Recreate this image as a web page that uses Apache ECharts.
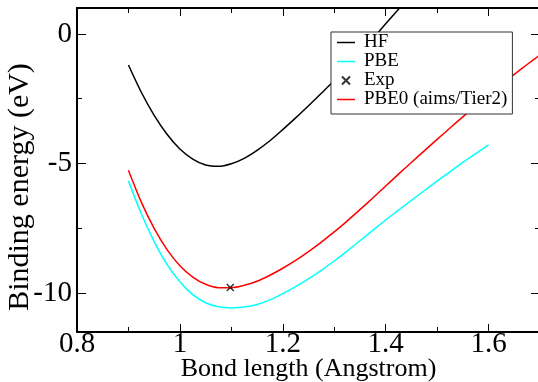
<!DOCTYPE html>
<html><head><meta charset="utf-8">
<script src="https://cdn.jsdelivr.net/npm/echarts@6/dist/echarts.min.js"></script>
<style>html,body{margin:0;padding:0;background:#fff}#c{width:538px;height:382px}</style>
</head><body><div id="c"></div>
<script>
const bondLength = [0.900,0.925,0.950,0.975,1.000,1.025,1.050,1.075,1.100,1.125,1.150,1.175,1.200,1.225,1.250,1.275,
                    1.300,1.325,1.350,1.375,1.400,1.425,1.450,1.475,1.500,1.525,1.550,1.575,1.600,1.625,1.650,1.675,1.700];
const hf   = [-1.20,-2.25,-3.14,-3.87,-4.44,-4.83,-5.06,-5.11,-5.01,-4.80,-4.49,-4.12,-3.69,-3.24,-2.77,-2.29,
              -1.80,-1.28,-0.74,-0.18,0.39,0.95,1.52];
const pbe  = [-5.67,-6.94,-8.01,-8.89,-9.56,-10.06,-10.37,-10.53,-10.57,-10.54,-10.44,-10.26,-10.02,-9.75,-9.45,-9.12,
              -8.76,-8.38,-7.98,-7.58,-7.18,-6.80,-6.42,-6.05,-5.68,-5.32,-4.96,-4.62,-4.28];
const pbe0 = [-5.26,-6.49,-7.50,-8.32,-8.94,-9.38,-9.66,-9.79,-9.79,-9.70,-9.54,-9.31,-9.04,-8.74,-8.40,-8.03,
              -7.64,-7.22,-6.78,-6.33,-5.87,-5.41,-4.96,-4.51,-4.07,-3.63,-3.20,-2.78,-2.36,-1.95,-1.56,-1.18,-0.81];
const expPoint = [[1.098,-9.78]];
const xMajor = [0.8,1.0,1.2,1.4,1.6];
const xMinor = [0.9,1.1,1.3,1.5,1.7];
const yMajor = [-10,-5,0];
const yMinor = [-7.5,-2.5];

const pair = (ys) => ys.map((y,i)=>[bondLength[i], y]);
const FONT = 'Liberation Serif';
const X_MIN = 0.8, X_MAX = 1.7, Y_MIN = -11.5, Y_MAX = 1;
const LINE_ICON = 'path://M0 0H36V3H0Z';

function xAx(pos, ticks, len, labels, line, name) {
  return {
    type:'value', position:pos, min:X_MIN, max:X_MAX,
    name: name || '', nameLocation:'middle', nameGap:24, nameMoveOverlap:false,
    nameTextStyle:{fontFamily:FONT, fontSize:26, color:'#000'},
    axisLine:{show:line, onZero:false, lineStyle:{color:'#000', width:2}},
    axisTick:{show:true, inside:true, length:len, customValues:ticks, lineStyle:{color:'#000', width:1}},
    axisLabel:{show:labels, customValues:ticks, fontFamily:FONT, fontSize:29, color:'#000', margin:-2,
      formatter:(v)=>String(Math.round(v*10)/10)},
    splitLine:{show:false}
  };
}
function yAx(pos, ticks, len, labels, line) {
  return {
    type:'value', position:pos, min:Y_MIN, max:Y_MAX,
    axisLine:{show:line, onZero:false, lineStyle:{color:'#000', width:2}},
    axisTick:{show:true, inside:true, length:len, customValues:ticks, lineStyle:{color:'#000', width:1}},
    axisLabel:{show:labels, customValues:ticks, fontFamily:FONT, fontSize:29, color:'#000', margin:5},
    splitLine:{show:false}
  };
}

const chart = echarts.init(document.getElementById('c'), null, {renderer:'canvas'});
chart.setOption({
  animation:false,
  backgroundColor:'#fff',
  grid:{left:77, top:8, width:463, height:324, containLabel:false, outerBoundsMode:'none'},
  xAxis:[
    xAx('bottom', xMajor, 8, true, true, 'Bond length (Angstrom)'),
    xAx('bottom', xMinor, 5, false, false),
    xAx('top', xMajor, 8, false, true),
    xAx('top', xMinor, 5, false, false)
  ],
  yAxis:[
    yAx('left', yMajor, 9, true, true),
    yAx('left', yMinor, 5, false, false),
    yAx('right', yMajor, 9, false, true),
    yAx('right', yMinor, 5, false, false)
  ],
  graphic:[{
    type:'text', x:20, y:187, rotation:Math.PI/2,
    style:{text:'Binding energy (eV)', fontFamily:FONT, fontSize:30, fill:'#000', align:'center', verticalAlign:'middle'}
  }],
  legend:{
    orient:'vertical', left:331, top:32, itemWidth:18, itemHeight:8, itemGap:0,
    padding:[1,5,5,6],
    backgroundColor:'#fff', borderColor:'#333', borderWidth:1, borderRadius:0,
    textStyle:{fontFamily:FONT, fontSize:19, color:'#000', lineHeight:19, padding:[0,0,0,4]},
    data:[
      {name:'HF', icon:LINE_ICON, symbolKeepAspect:true},
      {name:'PBE', icon:LINE_ICON, symbolKeepAspect:true},
      {name:'Exp'},
      {name:'PBE0 (aims/Tier2)', icon:LINE_ICON, symbolKeepAspect:true}
    ]
  },
  series:[
    {name:'HF', type:'line', data:pair(hf), symbol:'none', smooth:0.3, lineStyle:{color:'#000', width:1.5}, itemStyle:{color:'#000'}},
    {name:'PBE', type:'line', data:pair(pbe), symbol:'none', smooth:0.3, lineStyle:{color:'#00ffff', width:1.5}, itemStyle:{color:'#00ffff'}},
    {name:'Exp', type:'scatter', data:expPoint, symbol:'path://M0 0L10 10M10 0L0 10', symbolSize:7, symbolKeepAspect:true,
      itemStyle:{color:'#000', borderColor:'#000', borderWidth:1.5}, z:5},
    {name:'PBE0 (aims/Tier2)', type:'line', data:pair(pbe0), symbol:'none', smooth:0.3, lineStyle:{color:'#ff0000', width:1.5}, itemStyle:{color:'#ff0000'}}
  ]
});
</script></body></html>
